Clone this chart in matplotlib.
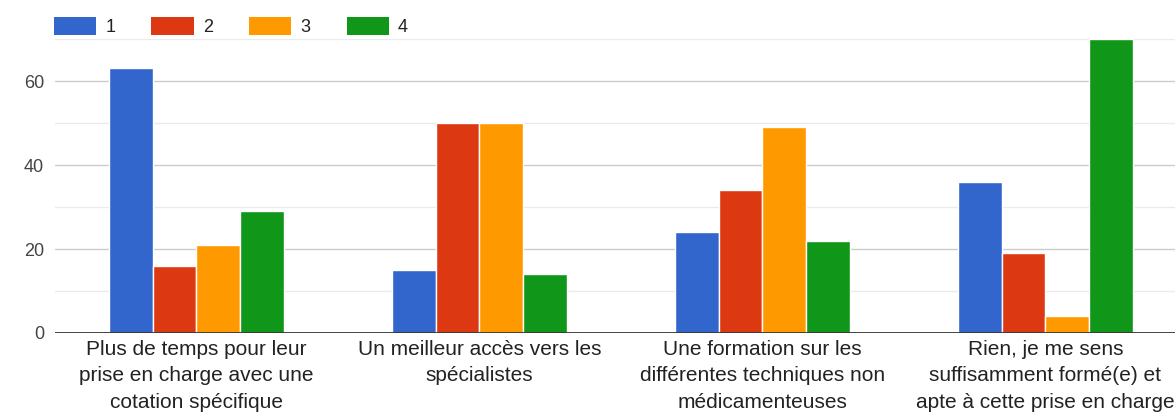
import matplotlib
matplotlib.use("Agg")
import matplotlib.pyplot as plt
from matplotlib.patches import Patch
import numpy as np

plt.rcParams['font.family'] = ['Liberation Sans', 'DejaVu Sans']

# data
categories = [
    "Plus de temps pour leur\nprise en charge avec une\ncotation spécifique",
    "Un meilleur accès vers les\nspécialistes",
    "Une formation sur les\ndifférentes techniques non\nmédicamenteuses",
    "Rien, je me sens\nsuffisamment formé(e) et\napte à cette prise en charge",
]
series_names = ["1", "2", "3", "4"]
values_1 = [63, 15, 24, 36]
values_2 = [16, 50, 34, 19]
values_3 = [21, 50, 49, 4]
values_4 = [29, 14, 22, 70]
colors = ["#3366cc", "#dc3912", "#ff9900", "#109618"]

fig = plt.figure(figsize=(11.75, 4.15), dpi=100)
ax = fig.add_axes([0.0468, 0.1976, 0.9532, 0.7084])

x = np.arange(len(categories))
w = 0.155
all_vals = [values_1, values_2, values_3, values_4]
for i, vals in enumerate(all_vals):
    ax.bar(x + (i - 1.5) * w, vals, width=w, color=colors[i],
           edgecolor="white", linewidth=1.0, zorder=3)

ax.set_xlim(-0.5, 3.458)
ax.set_ylim(0, 70)

# gridlines
for v in [10, 30, 50, 70]:
    ax.axhline(v, color="#ebebeb", lw=1, zorder=1)
for v in [20, 40, 60]:
    ax.axhline(v, color="#cccccc", lw=1, zorder=1)
ax.axhline(0, color="#333333", lw=2, zorder=4)

ax.set_yticks([0, 20, 40, 60])
ax.tick_params(axis="y", length=0, pad=8, labelsize=13, labelcolor="#444444")
ax.set_xticks(x)
ax.set_xticklabels(categories, fontsize=15, color="#222222", linespacing=1.5)
ax.tick_params(axis="x", length=0, pad=5)
for s in ax.spines.values():
    s.set_visible(False)

handles = [Patch(facecolor=c, edgecolor="none") for c in colors]
fig.legend(handles, series_names, loc="center left", bbox_to_anchor=(0.032, 0.937),
           ncol=4, frameon=False, fontsize=13, handlelength=2.35, handleheight=1.15,
           handletextpad=0.5, columnspacing=2.0, labelcolor="#222222")

fig.savefig("out.png", dpi=100)
